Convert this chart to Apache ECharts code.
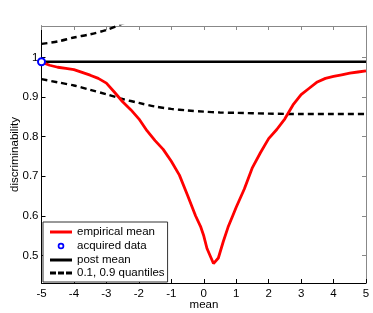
<!DOCTYPE html>
<html><head><meta charset="utf-8">
<script src="https://cdn.jsdelivr.net/npm/echarts@6/dist/echarts.min.js"></script>
<style>html,body{margin:0;padding:0;background:#fff}#c{width:373px;height:313px}</style>
</head><body><div id="c"></div>
<script>
const empiricalMean = [[-5,0.988],[-4.75,0.980],[-4.5,0.975],[-4.25,0.972],[-4,0.969],[-3.75,0.962],[-3.5,0.955],[-3.25,0.947],[-3,0.935],[-2.75,0.912],[-2.5,0.888],[-2.25,0.868],[-2,0.845],[-1.75,0.815],[-1.5,0.790],[-1.25,0.768],[-1,0.738],[-0.75,0.703],[-0.5,0.652],[-0.25,0.600],[-0.1,0.574],[0,0.550],[0.1,0.518],[0.3,0.480],[0.45,0.494],[0.6,0.535],[0.75,0.572],[0.9,0.602],[1,0.622],[1.25,0.668],[1.5,0.722],[1.75,0.760],[2,0.795],[2.25,0.818],[2.5,0.845],[2.75,0.880],[3,0.906],[3.25,0.922],[3.5,0.938],[3.75,0.947],[4,0.952],[4.25,0.956],[4.5,0.960],[4.75,0.963],[5,0.966]];
const acquiredData = [[-5,0.989]];
const postMean = [[-5,0.989],[5,0.989]];
const lowerQuantile = [[-5,0.945],[-4.5,0.937],[-4,0.929],[-3.5,0.918],[-3,0.907],[-2.5,0.895],[-2,0.885],[-1.5,0.876],[-1,0.870],[-0.5,0.866],[0,0.863],[0.5,0.861],[1,0.860],[2,0.858],[3,0.857],[4,0.857],[5,0.857]];
const upperQuantile = [[-5,1.034],[-4.5,1.040],[-4,1.050],[-3.5,1.058],[-3,1.069],[-2.5,1.085],[-2,1.100]];
const yTicks = [0.5,0.6,0.7,0.8,0.9,1];
const yTickLabels = ['0.5','0.6','0.7','0.8','0.9','1'];
const xMin = -5, xMax = 5, yMin = 0.431, yMax = 1.079;
const xTitle = 'mean', yTitle = 'discriminability';

const FONT = '"Liberation Sans", Arial, Helvetica, sans-serif';
const chart = echarts.init(document.getElementById('c'));
const solidIcon = 'path://M0,0h22v3h-22z';
const dashIcon = 'path://M0,0h6v3h-6zM8,0h6v3h-6zM16,0h6v3h-6z';
const ringIcon = 'path://M0,0h0.01v0.01h-0.01z M22,14h0.01v0.01h-0.01z ' +
  'M14.3,7A3.3,3.3 0 1,1 7.7,7A3.3,3.3 0 1,1 14.3,7Z M12.6,7A1.6,1.6 0 1,0 9.4,7A1.6,1.6 0 1,0 12.6,7Z';
chart.setOption({
  animation:false,
  grid:{left:41.5,right:7,top:26,bottom:30,containLabel:false,outerBoundsMode:'none'},
  graphic:[
    {type:'text',x:204,y:305,style:{text:xTitle,align:'center',verticalAlign:'middle',font:'11.5px '+FONT,fill:'#000'}},
    {type:'text',x:15,y:154.5,rotation:Math.PI/2,style:{text:yTitle,align:'center',verticalAlign:'middle',font:'11.5px '+FONT,fill:'#000'}}
  ],
  legend:{
    orient:'vertical', left:43, bottom:31, itemWidth:22, itemHeight:14, itemGap:1,
    padding:[4,3,3,7], borderColor:'#333', borderWidth:1, backgroundColor:'#fff',
    textStyle:{fontFamily:FONT,fontSize:11.5,color:'#000'},
    data:[
      {name:'empirical mean',icon:solidIcon,itemStyle:{color:'#ff0000',borderWidth:0}},
      {name:'acquired data',icon:ringIcon,itemStyle:{color:'#0000ff',borderWidth:0}},
      {name:'post mean',icon:solidIcon,itemStyle:{color:'#000',borderWidth:0}},
      {name:'0.1, 0.9 quantiles',icon:dashIcon,itemStyle:{color:'#000',borderWidth:0}}
    ]
  },
  xAxis:[{
    type:'value', min:xMin, max:xMax, interval:1, position:'bottom',
    axisLine:{onZero:false,lineStyle:{color:'#000',width:1}},
    axisTick:{inside:true,length:4,lineStyle:{color:'#000'}},
    axisLabel:{fontFamily:FONT,fontSize:11.5,color:'#000',margin:5},
    splitLine:{show:false}
  },{
    type:'value', min:xMin, max:xMax, interval:1, position:'top',
    axisLine:{onZero:false,lineStyle:{color:'#888'}}, axisTick:{inside:true,length:4,lineStyle:{color:'#888'}},
    axisLabel:{show:false}, splitLine:{show:false}
  }],
  yAxis:[{
    type:'value', min:yMin, max:yMax, position:'left',
    axisLine:{show:true,onZero:false,lineStyle:{color:'#000',width:1}},
    axisTick:{show:true,inside:true,length:4,lineStyle:{color:'#000'},customValues:yTicks},
    axisLabel:{fontFamily:FONT,fontSize:11.5,color:'#000',margin:3,customValues:yTicks,
      formatter:v=>yTickLabels[yTicks.findIndex(t=>Math.abs(t-v)<1e-9)] ?? ''},
    splitLine:{show:false}
  },{
    type:'value', min:yMin, max:yMax, position:'right',
    axisLine:{show:true,onZero:false,lineStyle:{color:'#888'}},
    axisTick:{show:true,inside:true,length:4,lineStyle:{color:'#888'},customValues:yTicks},
    axisLabel:{show:false}, splitLine:{show:false}
  }],
  series:[
    {name:'post mean',type:'line',data:postMean,symbol:'none',lineStyle:{color:'#000',width:2.6},itemStyle:{color:'#000'},z:2},
    {name:'0.1, 0.9 quantiles',type:'line',data:lowerQuantile,symbol:'none',smooth:0.3,lineStyle:{color:'#000',width:2.4,type:[6,4]},itemStyle:{color:'#000'},z:2},
    {name:'0.1, 0.9 quantiles',type:'line',data:upperQuantile,symbol:'none',smooth:0.3,lineStyle:{color:'#000',width:2.4,type:[6,4]},itemStyle:{color:'#000'},z:2},
    {name:'empirical mean',type:'line',data:empiricalMean,symbol:'none',lineStyle:{color:'#ff0000',width:2.8},itemStyle:{color:'#ff0000'},z:3},
    {name:'acquired data',type:'scatter',data:acquiredData,symbol:'circle',symbolSize:7,clip:false,
      itemStyle:{color:'#fff',borderColor:'#0000ff',borderWidth:2,opacity:1},z:4}
  ]
});
</script></body></html>
